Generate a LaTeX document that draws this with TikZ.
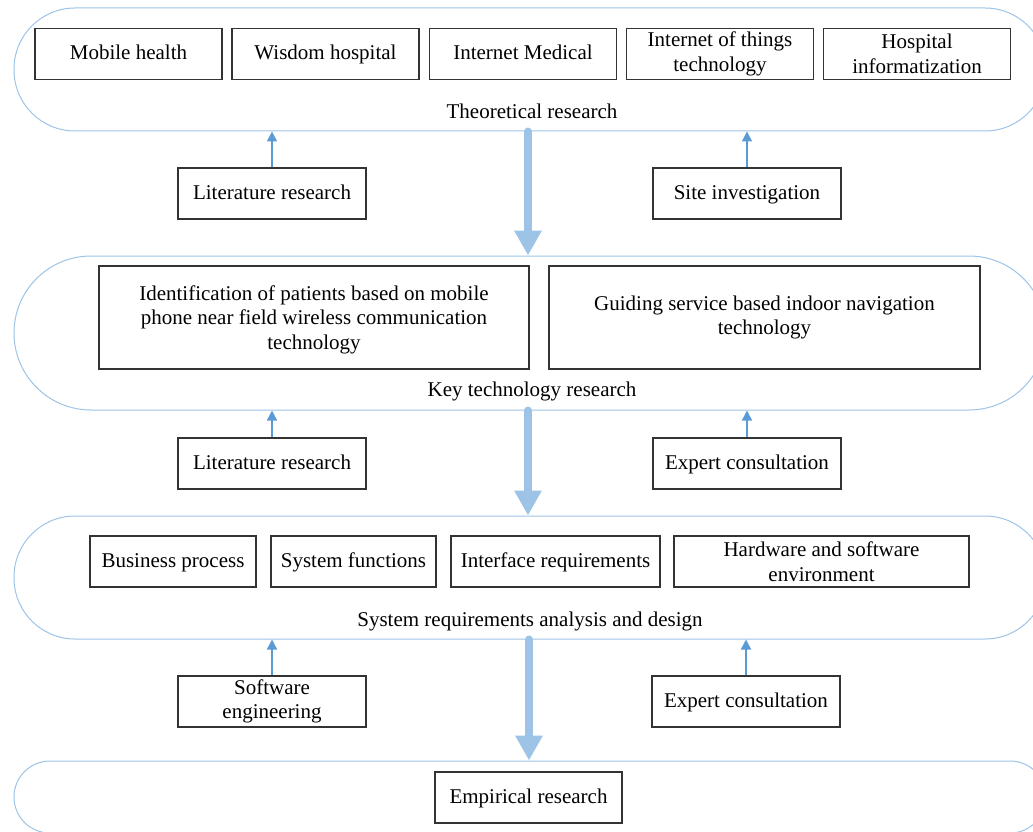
\documentclass[tikz,border=0pt]{standalone}
\usepackage{fontspec}
\setmainfont{Liberation Serif}
\usepackage{tikz}
\usetikzlibrary{arrows.meta}
\definecolor{pillblue}{RGB}{157,195,230}
\definecolor{tipblue}{RGB}{91,155,213}

\begin{document}
\begin{tikzpicture}[x=1pt, y=-1pt,
    every node/.style={font=\fontsize{21}{24.5}\selectfont},
    box/.style={draw=black!80, line width=1.2pt, inner sep=1pt, align=center, minimum width=188pt, minimum height=51pt},
    single/.style={box, text height=15pt, text depth=4pt},
    stage/.style={draw=pillblue, line width=1pt, inner sep=0pt, minimum width=1032pt},
    flow/.style={draw=pillblue, line width=8pt, line cap=round, -{Triangle[width=26pt,length=25pt]}},
    feed/.style={draw=tipblue, line width=1.5pt, -{Triangle[width=10pt,length=10pt]}}]
    \clip (0,0) rectangle (1033,832);
    % stages
    \node[stage, minimum height=123pt, rounded corners=61pt] (theory) at (530,69.5) {};
    \node[stage, minimum height=154pt, rounded corners=77pt] (keytech) at (530,333) {};
    \node[stage, minimum height=123pt, rounded corners=61pt] (sysreq) at (530,577.5) {};
    \node[stage, minimum height=72pt, rounded corners=36pt] (empir) at (530,797) {};
    \node (theorylbl) at (532,111) {Theoretical research};
    \node (keytechlbl) at (532,391) {Key technology research};
    \node (sysreqlbl) at (530,621) {System requirements analysis and design};
    % theoretical research
    \node[single, minimum width=187pt] (mobile) at (128.5,54) {Mobile health};
    \node[single, minimum width=187pt] (wisdom) at (325.5,54) {Wisdom hospital};
    \node[single, minimum width=187pt] (intmed) at (523,54) {Internet Medical};
    \node[box, minimum width=187pt] (iot) at (720,54) {Internet of things\\technology};
    \node[box, minimum width=187pt] (hosinfo) at (917,54) {Hospital\\informatization};
    \node[single] (lit1) at (272,193.5) {Literature research};
    \node[single] (site) at (747,193.5) {Site investigation};
    % key technology research
    \node[box, minimum width=430pt, minimum height=103pt, text depth=0pt] (ident) at (314,317.5) {Identification of patients based on mobile\\phone near field wireless communication\\technology};
    \node[box, minimum width=431pt, minimum height=103pt] (guide) at (764.5,317.5) {Guiding service based indoor navigation\\technology};
    \node[single] (lit2) at (272,463.5) {Literature research};
    \node[single] (expert1) at (747,463.5) {Expert consultation};
    % system requirements
    \node[single, minimum width=166pt] (business) at (173,561.5) {Business process};
    \node[single, minimum width=165pt] (sysfun) at (353.5,561.5) {System functions};
    \node[single, minimum width=209pt] (iface) at (555.5,561.5) {Interface requirements};
    \node[box, minimum width=295pt] (hwsw) at (821.5,561.5) {Hardware and software\\environment};
    \node[box] (softeng) at (272,701.5) {Software\\engineering};
    \node[single] (expert2) at (746,701.5) {Expert consultation};
    % empirical research
    \node[single, minimum width=187pt] (empirbox) at (528.5,797.5) {Empirical research};
    % thick arrows
    \draw[flow] ([xshift=-2pt]theory.south) -- ([xshift=-2pt]keytech.north);
    \draw[flow] ([xshift=-2pt]keytech.south) -- ([xshift=-2pt]sysreq.north);
    \draw[flow] ([xshift=-1pt]sysreq.south) -- ([xshift=-1pt]empir.north);
    % thin arrows
    \draw[feed] (lit1.north) -- (lit1.north |- theory.south);
    \draw[feed] (site.north) -- (site.north |- theory.south);
    \draw[feed] (lit2.north) -- (lit2.north |- keytech.south);
    \draw[feed] (expert1.north) -- (expert1.north |- keytech.south);
    \draw[feed] (softeng.north) -- (softeng.north |- sysreq.south);
    \draw[feed] (expert2.north) -- (expert2.north |- sysreq.south);
\end{tikzpicture}
\end{document}
